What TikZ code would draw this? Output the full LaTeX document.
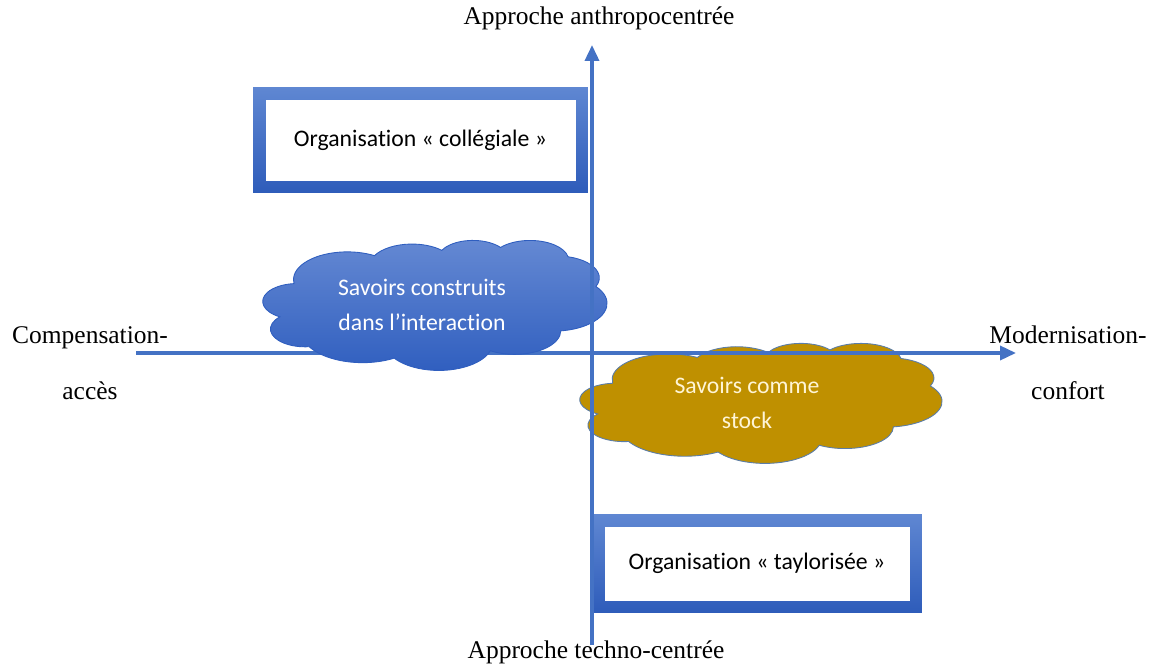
\documentclass[tikz,border=0pt]{standalone}
\usepackage{fontspec}
\setmainfont{Liberation Serif}
\newfontfamily\carlito{Carlito}[Ligatures=NoCommon]
\usepackage{tikz}
\usetikzlibrary{positioning, arrows.meta, calc}

\definecolor{axisblue}{HTML}{4472C4}
\definecolor{boxtop}{HTML}{5F87D2}
\definecolor{boxbot}{HTML}{2E5CBA}
\definecolor{cloudtop}{HTML}{6589D3}
\definecolor{cloudbot}{HTML}{2F5EBF}
\definecolor{cloudgold}{HTML}{BF9000}
\definecolor{goldedge}{HTML}{5B7DA8}
\definecolor{goldtext}{HTML}{FFF5D6}

% cloud outline in a 100 x 100 frame (y downwards)
\newcommand{\cloudpath}{%
  (9.028,33.264)
  arc[start angle=-187.75, end angle=-59.64, x radius=15.632, y radius=21.273]
  arc[start angle=-152.02, end angle=-45.45, x radius=12.345, y radius=16.822]
  arc[start angle=-153.49, end angle=-37.33, x radius=10.104, y radius=13.762]
  arc[start angle=-139.72, end angle=-10.22, x radius=11.243, y radius=15.266]
  arc[start angle=-74.77,  end angle=23.21,  x radius=12.345, y radius=16.836]
  arc[start angle=-37.52,  end angle=81.86,  x radius=15.683, y radius=21.343]
  arc[start angle=0.46,    end angle=121.98, x radius=13.391, y radius=18.211]
  arc[start angle=16.84,   end angle=146.23, x radius=15.630, y radius=21.331]
  arc[start angle=58.98,   end angle=150.20, x radius=17.870, y radius=24.405]
  arc[start angle=83.31,   end angle=223.11, x radius=10.093, y radius=13.699]
  arc[start angle=120.35,  end angle=264.11, x radius=10.058, y radius=13.762]
  -- cycle}

\begin{document}
\begin{tikzpicture}[x=0.02cm, y=-0.02cm,
      axis/.style={
          -{Triangle[length=0.32cm, width=0.28cm]},
          line width=0.07cm, color=axisblue
        },
      orgbox/.style={
          rectangle, inner sep=0pt,
          top color=boxtop, bottom color=boxbot,
          font=\carlito\fontsize{13.5}{16}\selectfont, text=black,
          path picture={\fill[white]
              ($(path picture bounding box.north west)+(0.25cm,-0.25cm)$)
              rectangle
              ($(path picture bounding box.south east)+(-0.24cm,0.24cm)$);}
        },
      blobblue/.style={
          top color=cloudtop, bottom color=cloudbot,
          draw=cloudbot, line width=0.5pt
        },
      blobgold/.style={
          fill=cloudgold, draw=goldedge, line width=0.5pt
        },
      blobtext/.style={
          align=center, inner sep=0pt,
          font=\carlito\fontsize{13.5}{20}\selectfont
        },
      axislabel/.style={
          font=\fontsize{14.5}{32}\selectfont, align=center, inner sep=0pt
        }
    ]

    \useasboundingbox (0,0) rectangle (1152,665);

    % ── Axis end points ──
    \coordinate (north) at (592,45);
    \coordinate (south) at (592,645);
    \coordinate (west)  at (136,353);
    \coordinate (east)  at (1016,353);

    % ── Organisation boxes ──
    \node[orgbox, minimum width=6.7cm, minimum height=2.12cm]
    (collegial) at (420.5,140) {Organisation « collégiale »};
    \node[orgbox, minimum width=6.6cm, minimum height=1.98cm]
    (taylor) at (757,563.5) {Organisation « taylorisée »};

    % ── Knowledge clouds and axes ──
    \begin{scope}[shift={(580,343)}, x=0.0724cm, y=-0.024cm]
      \path[blobgold] \cloudpath;
    \end{scope}
    \draw[axis] (west) -- (east);
    \begin{scope}[shift={(263,240)}, x=0.0688cm, y=-0.026cm]
      \path[blobblue] \cloudpath;
    \end{scope}
    \draw[axis] (south) -- (north);

    \node[blobtext, text=white]    (interact) at (422,305) {Savoirs construits\\dans l’interaction};
    \node[blobtext, text=goldtext] (stock)    at (747,403) {Savoirs comme\\stock};

    % ── Axis labels ──
    \node[axislabel] (anthro)  at (599,18)   {Approche anthropocentrée};
    \node[axislabel] (techno)  at (596,652)  {Approche techno-centrée};
    \node[axislabel] (compens) at (90,363)   {Compensation-\\accès};
    \node[axislabel] (modern)  at (1068,363) {Modernisation-\\confort};

  \end{tikzpicture}
\end{document}
